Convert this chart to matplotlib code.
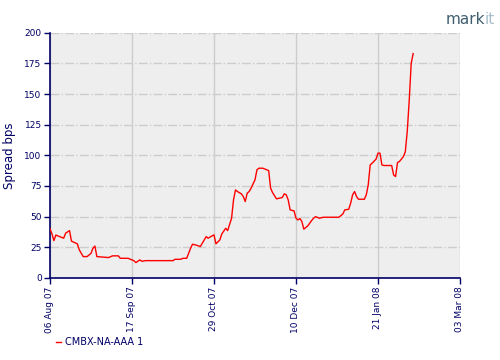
import numpy as np
import pandas as pd
import matplotlib
matplotlib.use('Agg')
import matplotlib.pyplot as plt
import matplotlib.dates as mdates

# CMBX-NA-AAA 1 spread (bps)
dates = ['2007-08-06', '2007-08-07', '2007-08-08', '2007-08-09', '2007-08-10',
         '2007-08-13', '2007-08-14', '2007-08-16', '2007-08-17', '2007-08-20',
         '2007-08-21', '2007-08-23', '2007-08-25', '2007-08-27', '2007-08-28',
         '2007-08-29', '2007-08-30', '2007-09-05', '2007-09-07', '2007-09-10',
         '2007-09-11', '2007-09-15', '2007-09-18', '2007-09-19', '2007-09-21',
         '2007-09-22', '2007-09-24', '2007-10-08', '2007-10-09', '2007-10-12',
         '2007-10-13', '2007-10-15', '2007-10-16', '2007-10-17', '2007-10-18',
         '2007-10-20', '2007-10-22', '2007-10-23', '2007-10-25', '2007-10-26',
         '2007-10-28', '2007-10-29', '2007-10-30', '2007-11-01', '2007-11-02',
         '2007-11-04', '2007-11-05', '2007-11-07', '2007-11-08', '2007-11-09',
         '2007-11-10', '2007-11-12', '2007-11-13', '2007-11-14', '2007-11-15',
         '2007-11-16', '2007-11-17', '2007-11-18', '2007-11-19', '2007-11-20',
         '2007-11-21', '2007-11-23', '2007-11-25', '2007-11-26', '2007-11-27',
         '2007-11-28', '2007-11-30', '2007-12-03', '2007-12-04', '2007-12-05',
         '2007-12-06', '2007-12-07', '2007-12-09', '2007-12-10', '2007-12-11',
         '2007-12-12', '2007-12-13', '2007-12-14', '2007-12-16', '2007-12-18',
         '2007-12-19', '2007-12-20', '2007-12-22', '2007-12-24', '2008-01-01',
         '2008-01-03', '2008-01-04', '2008-01-06', '2008-01-07', '2008-01-08',
         '2008-01-09', '2008-01-10', '2008-01-11', '2008-01-14', '2008-01-15',
         '2008-01-16', '2008-01-17', '2008-01-18', '2008-01-20', '2008-01-21',
         '2008-01-22', '2008-01-23', '2008-01-24', '2008-01-28', '2008-01-29',
         '2008-01-30', '2008-01-31', '2008-02-01', '2008-02-03', '2008-02-04',
         '2008-02-05', '2008-02-06', '2008-02-07', '2008-02-08']
spread = [40, 36, 30.4, 35, 34.3,
          32.4, 36.5, 38.6, 30, 27.8,
          22.9, 17.4, 17.4, 20, 24.2,
          26, 17.4, 16.6, 18, 18,
          16, 16, 14, 12.5, 14.7,
          13.6, 14.1, 14.1, 15.2, 15.2,
          16, 16, 20, 24.2, 27.5,
          26.7, 25.6, 28.3, 33.7, 32.4,
          34.3, 35.1, 27.8, 31, 35.9,
          40.5, 38.6, 48.7, 63.7, 71.8,
          70.5, 68.6, 66.4, 62.3, 69.1,
          70.5, 73.2, 76.7, 80, 88.2,
          89.5, 89.5, 88.2, 87.6, 73.2,
          69.6, 64.5, 65.6, 68.6, 67.8,
          63.7, 55.5, 54.7, 48.7, 47.3,
          48.5, 46, 39.8, 42.4, 46.8,
          48.7, 50, 48.7, 49.5, 49.5,
          52.2, 55.5, 56, 61, 67.8,
          70.5, 66.4, 64.2, 64.2, 67.8,
          75.9, 92.2, 93.6, 96.9, 101.8,
          101.8, 92.2, 91.7, 91.7, 84,
          82.7, 94.1, 95, 99, 103,
          120, 145, 175, 183]

tick_dates = ['2007-08-06', '2007-09-17', '2007-10-29', '2007-12-10', '2008-01-21', '2008-03-03']
tick_labels = ['06 Aug 07', '17 Sep 07', '29 Oct 07', '10 Dec 07', '21 Jan 08', '03 Mar 08']
y_ticks = [0, 25, 50, 75, 100, 125, 150, 175, 200]

navy = '#000066'
x = pd.to_datetime(dates)
xt = pd.to_datetime(tick_dates)

fig = plt.figure(figsize=(5, 3.6), dpi=100)
ax = fig.add_axes([0.1, 0.228, 0.82, 0.681])
ax.set_facecolor('#eeeeee')

ax.plot(x, spread, color='red', lw=1.0, zorder=3)

ax.set_xlim(xt[0], xt[-1])
ax.set_ylim(0, 200)
ax.set_xticks(xt)
ax.set_xticklabels(tick_labels, rotation=90, fontsize=6.5, color=navy)
ax.set_yticks(y_ticks)
ax.set_yticklabels([str(v) for v in y_ticks], fontsize=6.5, color=navy)
ax.tick_params(axis='both', colors=navy, length=4, width=1, pad=2)

ax.yaxis.grid(True, color='#cccccc', linestyle='-.', lw=1)
ax.xaxis.grid(True, color='#cccccc', linestyle='-', lw=1)
ax.set_axisbelow(True)

for s in ['top', 'right']:
    ax.spines[s].set_visible(False)
for s in ['left', 'bottom']:
    ax.spines[s].set_color(navy)
    ax.spines[s].set_linewidth(1.2)

ax.set_ylabel('Spread bps', fontsize=8.5, color=navy)
ax.yaxis.set_label_coords(-0.082, 0.5)

# legend
fig.add_artist(plt.Line2D([0.112, 0.122], [0.05, 0.05], color='red', lw=1))
fig.text(0.13, 0.05, 'CMBX-NA-AAA 1', fontsize=7, color=navy, va='center')

# logo
fig.text(0.97, 0.945, 'mark', fontsize=11, color='#3f5f6f', ha='right', va='center')
fig.text(0.97, 0.945, 'it', fontsize=11, color='#a8c0cc', ha='left', va='center')

fig.savefig('out.png', dpi=100, facecolor='white')
